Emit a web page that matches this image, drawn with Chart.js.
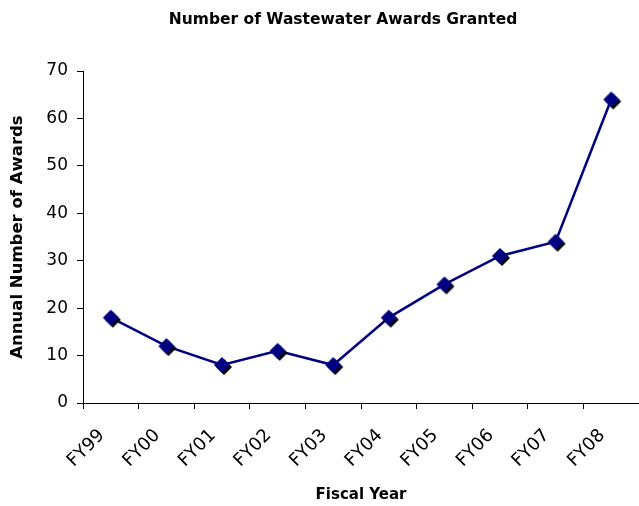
<!DOCTYPE html>
<html>
<head>
<meta charset="utf-8">
<script src="https://cdn.jsdelivr.net/npm/chart.js@4"></script>
<style>
  html, body { margin: 0; padding: 0; background: #fff; }
  #wrap { width: 639px; height: 506px; }
</style>
</head>
<body>
<div id="wrap"><canvas id="awardsChart" width="639" height="506"></canvas></div>
<script>
// Wastewater awards per fiscal year
const fiscalYears = ['FY99', 'FY00', 'FY01', 'FY02', 'FY03', 'FY04', 'FY05', 'FY06', 'FY07', 'FY08'];
const awardCounts = [18, 12, 8, 11, 8, 18, 25, 31, 34, 64];
const yTicks = [0, 10, 20, 30, 40, 50, 60, 70];
const chartTitle = 'Number of Wastewater Awards Granted';

const FONT = '"DejaVu Sans", sans-serif';
const navy = '#000080';

// diamond marker with a small black drop shadow, like the original
function makeMarker(){
  const c = document.createElement('canvas');
  c.width = 26; c.height = 26;
  const g = c.getContext('2d');
  const diamond = (cx, cy, r, fill) => {
    g.beginPath();
    g.moveTo(cx, cy - r);
    g.lineTo(cx + r, cy);
    g.lineTo(cx, cy + r);
    g.lineTo(cx - r, cy);
    g.closePath();
    g.fillStyle = fill;
    g.fill();
  };
  diamond(15, 15, 8, '#000');
  diamond(13, 13, 8, navy);
  return c;
}

// title sits a bit right of the canvas centre in the original, so draw it by hand
const titlePlugin = {
  id: 'offsetTitle',
  afterDraw(chart){
    const c = chart.ctx;
    c.save();
    c.font = 'bold 15.5px ' + FONT;
    c.fillStyle = '#000';
    c.textAlign = 'center';
    c.textBaseline = 'middle';
    c.fillText(chartTitle, 343, 20);
    c.restore();
  }
};

const ctx = document.getElementById('awardsChart').getContext('2d');

new Chart(ctx, {
  type: 'line',
  data: {
    labels: fiscalYears,
    datasets: [{
      label: 'Awards',
      data: awardCounts,
      borderColor: navy,
      borderWidth: 2.5,
      backgroundColor: navy,
      pointStyle: makeMarker(),
      pointRadius: 8,
      tension: 0
    }]
  },
  plugins: [titlePlugin],
  options: {
    responsive: false,
    animation: false,
    layout: { autoPadding: false, padding: { top: 71, right: 0, left: 0, bottom: 0 } },
    plugins: {
      legend: { display: false },
      tooltip: { enabled: false },
      title: { display: false }
    },
    scales: {
      x: {
        type: 'category',
        offset: true,
        border: { display: true, color: '#000', width: 1 },
        grid: { offset: true, drawOnChartArea: false, color: '#000', tickLength: 6 },
        ticks: {
          color: '#000',
          font: { family: FONT, size: 18 },
          minRotation: 45,
          maxRotation: 45,
          padding: 16,
          labelOffset: -9
        },
        title: {
          display: true,
          text: 'Fiscal Year',
          color: '#000',
          font: { family: FONT, size: 15, weight: 'bold' },
          padding: { top: 0, bottom: 2 }
        },
        afterFit: (axis) => {
          axis.height = 103;
          axis.paddingLeft = 0;
          axis.paddingRight = 0;
        }
      },
      y: {
        min: 0,
        max: 70,
        afterBuildTicks: (axis) => { axis.ticks = yTicks.map(v => ({ value: v })); },
        border: { display: true, color: '#000', width: 1 },
        grid: { drawOnChartArea: false, color: '#000', tickLength: 6 },
        ticks: {
          color: '#000',
          font: { family: FONT, size: 17 },
          padding: 9
        },
        title: {
          display: true,
          text: 'Annual Number of Awards',
          color: '#000',
          font: { family: FONT, size: 16.5, weight: 'bold' },
          padding: { top: 8, bottom: 0 }
        },
        afterFit: (axis) => { axis.width = 83; }
      }
    }
  }
});
</script>
</body>
</html>
